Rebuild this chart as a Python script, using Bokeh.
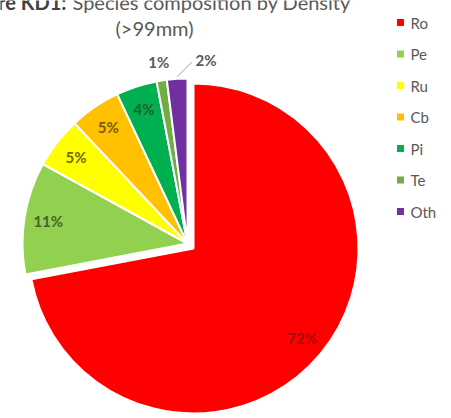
import math
from bokeh.plotting import figure
from bokeh.models import ColumnDataSource
from bokeh.core.properties import value
from bokeh.embed import file_html
from bokeh.resources import INLINE

# Species composition by density (>99mm), percent of stems
species = ["Ro", "Pe", "Ru", "Cb", "Pi", "Te", "Oth"]
shares = [72, 11, 5, 5, 4, 1, 2]
pct_labels = ["72%", "11%", "5%", "5%", "4%", "1%", "2%"]
colors = ["#FF0000", "#92D050", "#FFFF00", "#FFC000", "#00B050", "#70AD47", "#7030A0"]
label_colors = ["#A01010", "#44662A", "#6B6B00", "#7A5A00", "#1E5E36", "#595959", "#595959"]

W, H = 451, 418
CX, CY = 187, H - 243        # pie centre (y measured upward)
R = 165
EXPLODE = 7.8                # first slice is pulled out
LABEL_R = 141                # inside labels
OUTSIDE_R = 184              # labels of thin slices
outside = {"Te", "Oth"}

p = figure(width=W, height=H, x_range=(0, W), y_range=(0, H),
           x_axis_type=None, y_axis_type=None, min_border=0,
           toolbar_location=None, output_backend="svg")
p.grid.visible = False
p.outline_line_color = None
p.background_fill_color = "white"

total = float(sum(shares))
xs, ys, starts, ends = [], [], [], []
lx, ly = [], []
cum = 0.0
for name, v in zip(species, shares):
    a0 = math.radians(90 - 360 * cum / total)
    cum += v
    a1 = math.radians(90 - 360 * cum / total)
    mid = (a0 + a1) / 2
    off = EXPLODE if name == species[0] else 0.0
    cx = CX + off * math.cos(mid)
    cy = CY + off * math.sin(mid)
    xs.append(cx)
    ys.append(cy)
    starts.append(a1)
    ends.append(a0)
    r = OUTSIDE_R if name in outside else LABEL_R
    tx = cx + r * math.cos(mid)
    ty = cy + r * math.sin(mid)
    if name == "Oth":
        tx += 30
        lead = (cx + (R + 2) * math.cos(mid), cy + (R + 2) * math.sin(mid))
    lx.append(tx)
    ly.append(ty)

src = ColumnDataSource(dict(x=xs, y=ys, start=starts, end=ends, color=colors,
                            lx=lx, ly=ly, text=pct_labels, tcolor=label_colors))

p.wedge(x="x", y="y", radius=R, start_angle="start", end_angle="end",
        direction="anticlock", fill_color="color", line_color="white",
        line_width=2, source=src)

# leader line for the "Oth" label
oi = species.index("Oth")
p.line(x=[lead[0], lx[oi] - 14], y=[lead[1], ly[oi] - 2], line_color="#A6A6A6", line_width=1)

p.text(x="lx", y="ly", text="text", text_color="tcolor", source=src,
       text_align="center", text_baseline="middle", text_font=value("Lato"),
       text_font_size="15px", text_font_style="bold")

# title, its first line runs past the top edge
p.text(x=[66], y=[H - 1], text=["Figure KD1:"], text_font=value("Lato"),
       text_font_size="20px", text_font_style="bold", text_color="#404040",
       text_align="right", text_baseline="alphabetic")
p.text(x=[72], y=[H - 1], text=["Species composition by Density"],
       text_font=value("Lato"), text_font_size="20px", text_color="#595959",
       text_align="left", text_baseline="alphabetic")
p.text(x=[154], y=[H - 27], text=["(>99mm)"], text_font=value("Lato"),
       text_font_size="20px", text_color="#595959",
       text_align="center", text_baseline="alphabetic")

# legend
leg_y = [H - (22 + 31.5 * i) for i in range(len(species))]
p.scatter(x=[400] * len(species), y=leg_y, marker="square", size=7,
          fill_color=colors, line_color=None)
p.text(x=[410] * len(species), y=leg_y, text=species, text_font=value("Lato"),
       text_font_size="15px", text_color="#595959",
       text_align="left", text_baseline="middle")

open("out.html", "w").write(file_html(p, INLINE))
